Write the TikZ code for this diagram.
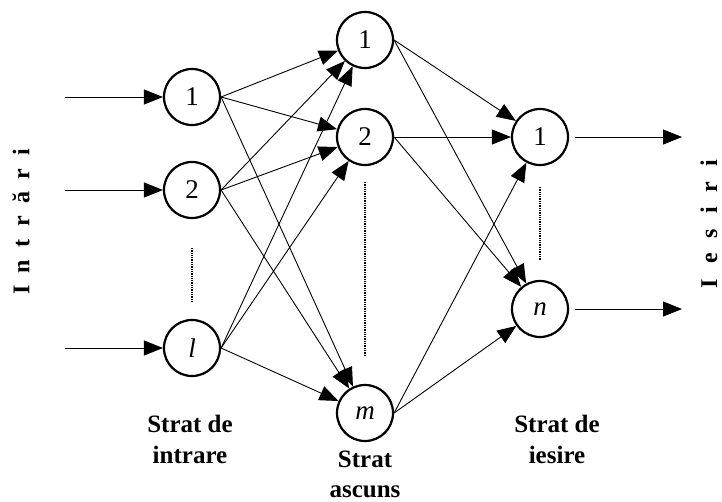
\documentclass[tikz,border=0pt]{standalone}
\usepackage{fontspec}
\setmainfont{Liberation Serif}
\usetikzlibrary{arrows.meta}
\begin{document}
\begin{tikzpicture}[x=1pt,y=-1pt,
  neuron/.style={circle,draw,line width=2.2pt,minimum size=56pt,inner sep=0pt,font=\fontsize{27}{27}\selectfont},
  link/.style={line width=0.9pt,-{Triangle[length=19pt,width=15pt]}},
  layerlabel/.style={font=\bfseries\fontsize{25}{25}\selectfont,anchor=base,inner sep=0pt},
  sidelabel/.style={font=\bfseries\fontsize{24}{24}\selectfont,rotate=90,inner sep=0pt},
  dotline/.style={densely dotted,line width=1.3pt}]
\useasboundingbox (0,0) rectangle (722,502);
% input layer
\node[neuron] (i1) at (192,97) {1};
\node[neuron] (i2) at (192,190) {2};
\node[neuron] (il) at (192,348) {\textit{l}};
% hidden layer
\node[neuron] (h1) at (365,40) {1};
\node[neuron] (h2) at (365,137) {2};
\node[neuron] (hm) at (365,413) {\textit{m}};
% output layer
\node[neuron] (o1) at (540,137) {1};
\node[neuron] (on) at (540,309) {\textit{n}};
% dotted separators
\draw[dotline] (i1.south |- 0,248) coordinate (d1a) -- (i1.south |- 0,303) coordinate (d1b);
\draw[dotline] (h1.south |- 0,182) coordinate (d2a) -- (h1.south |- 0,355) coordinate (d2b);
\draw[dotline] (o1.south |- 0,187) coordinate (d3a) -- (o1.south |- 0,260) coordinate (d3b);
% inputs
\coordinate (x1) at (65,97);
\coordinate (x2) at (65,190);
\coordinate (xl) at (65,348);
\draw[link] (x1) -- (i1);
\draw[link] (x2) -- (i2);
\draw[link] (xl) -- (il);
% input -> hidden
\foreach \a in {i1,i2,il}{
  \foreach \b in {h1,h2,hm}{
    \draw[link] (\a.east) -- (\b);
  }
}
% hidden -> output
\foreach \a in {h1,h2,hm}{
  \foreach \b in {o1,on}{
    \draw[link] (\a.east) -- (\b);
  }
}
% outputs
\coordinate (y1) at (682,137);
\coordinate (yn) at (682,309);
\draw[link,shorten <=6pt] (o1) -- (y1);
\draw[link,shorten <=6pt] (on) -- (yn);
% layer labels
\node[layerlabel] (li1) at (190,432) {Strat de};
\node[layerlabel] (li2) at (190,463) {intrare};
\node[layerlabel] (lh1) at (365,467) {Strat};
\node[layerlabel] (lh2) at (365,497) {ascuns};
\node[layerlabel] (lo1) at (557,432) {Strat de};
\node[layerlabel] (lo2) at (557,463) {iesire};
% side labels
\node[sidelabel] (intr) at (21,222) {I\hspace{12.5pt}n\hspace{12.5pt}t\hspace{12.5pt}r\hspace{12.5pt}ă\hspace{12.5pt}r\hspace{12.5pt}i};
\node[sidelabel] (ies) at (709,224) {I\hspace{15pt}e\hspace{15pt}s\hspace{15pt}i\hspace{15pt}r\hspace{15pt}i};
\end{tikzpicture}
\end{document}
